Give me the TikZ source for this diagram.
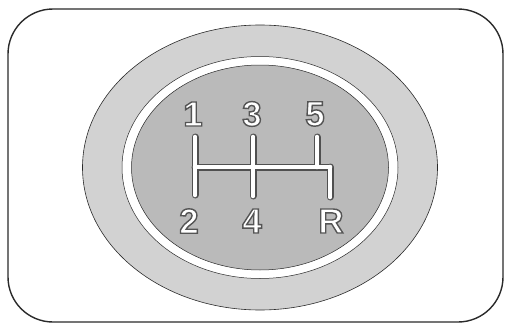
\documentclass[tikz,border=0pt]{standalone}
\usepackage{fontspec}
\setmainfont{Liberation Sans}
\definecolor{ringgray}{HTML}{D2D2D2}
\definecolor{innergray}{HTML}{BABABA}
\definecolor{edge}{HTML}{2A2A2A}
\definecolor{gateedge}{HTML}{505050}
\newcommand{\strokedtext}[1]{%
  \special{pdf:literal direct 0.33 0.33 0.33 RG 1.4 w 2 Tr}#1\special{pdf:literal direct 0 Tr}}
\begin{document}
\begin{tikzpicture}[x=1pt,y=-1pt,
  gearlabel/.style={inner sep=0pt, text=white, font=\bfseries\fontsize{35}{35}\selectfont},
  gateouter/.style={draw=gateedge, line width=7pt, line cap=round, line join=miter},
  gateinner/.style={draw=white, line width=4.6pt, line cap=round, line join=miter}]
\useasboundingbox (0,0) rectangle (507,324);
% outer frame
\draw[edge, line width=1.4pt, rounded corners=45pt] (8,9) rectangle (503,322);
% knob rings
\fill[ringgray, draw=edge, line width=0.6pt] (260,167.5) ellipse [x radius=177.5, y radius=142.5];
\fill[white, draw=edge, line width=0.5pt] (260,167.5) ellipse [x radius=138, y radius=111];
\fill[innergray, draw=edge, line width=0.5pt] (260,167.5) ellipse [x radius=128.5, y radius=102.5];
% gate pattern
\coordinate (g1) at (195,137);
\coordinate (g2) at (195,195);
\coordinate (g3) at (253,137);
\coordinate (g4) at (253,196);
\coordinate (g5) at (317,137);
\coordinate (gR) at (330,197);
\foreach \st in {gateouter,gateinner}{
  \draw[\st] (g1) -- (g2);
  \draw[\st] (g3) -- (g4);
  \draw[\st] (195,167) -- (330,167);
  \draw[\st] (g5) -- (317,167);
  \draw[\st] (330,167) -- (gR);
}
% labels
\node[gearlabel] (l1) at (193,114) {\strokedtext{1}};
\node[gearlabel] (l3) at (252,114) {\strokedtext{3}};
\node[gearlabel] (l5) at (315,114) {\strokedtext{5}};
\node[gearlabel] (l2) at (189,221) {\strokedtext{2}};
\node[gearlabel] (l4) at (252,221) {\strokedtext{4}};
\node[gearlabel] (lR) at (331,221) {\strokedtext{R}};
\end{tikzpicture}
\end{document}
